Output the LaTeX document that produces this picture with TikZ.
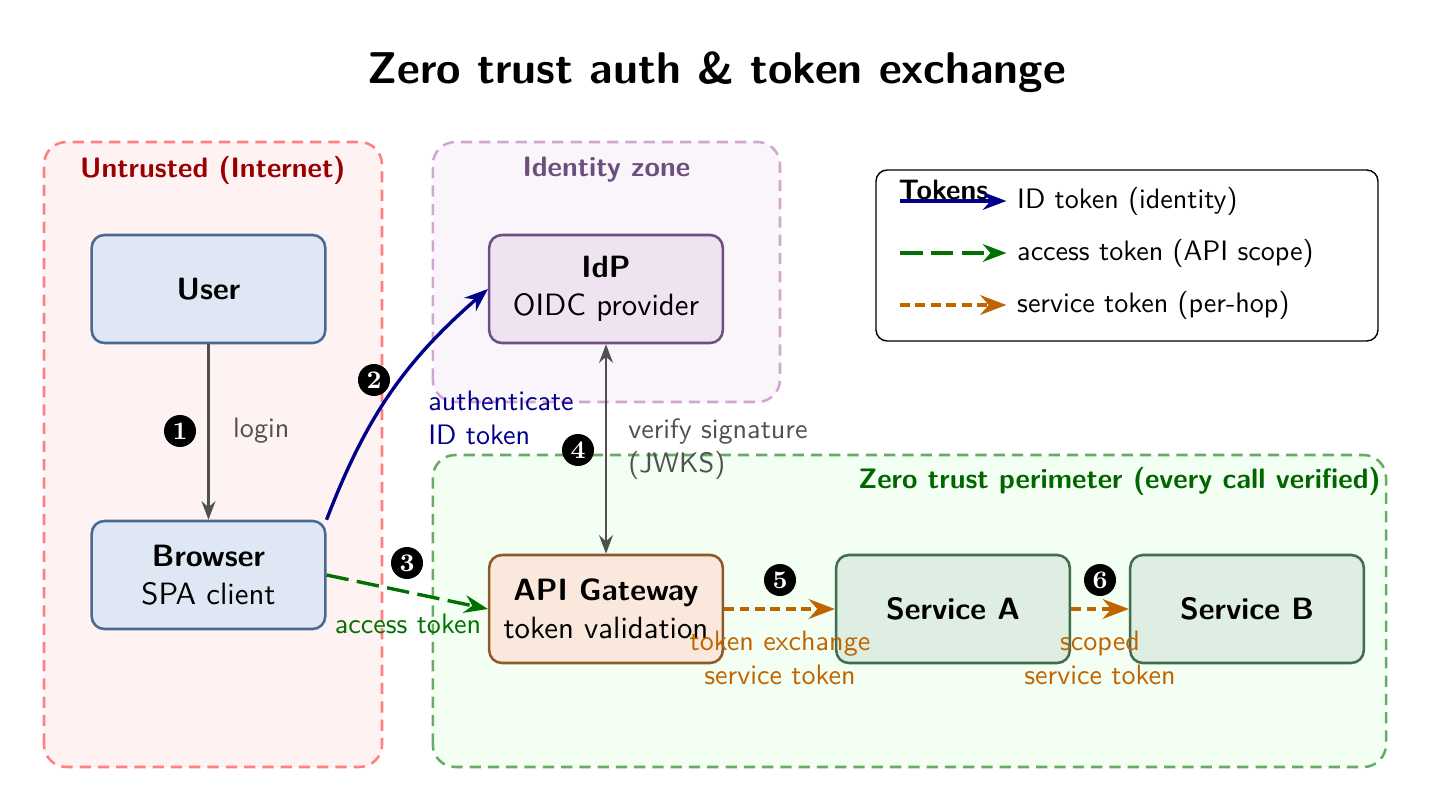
\documentclass[tikz,border=0pt,11pt]{standalone}
\usepackage{xcolor}
\usepackage{tikz}
\usetikzlibrary{arrows.meta, positioning}
\renewcommand{\familydefault}{\sfdefault}

\definecolor{userfill}{HTML}{DEE7F3}
\definecolor{userdraw}{HTML}{4A6892}
\definecolor{idpfill}{HTML}{EFE3F1}
\definecolor{idpdraw}{HTML}{6E4E7E}
\definecolor{gwfill}{HTML}{FBE8DC}
\definecolor{gwdraw}{HTML}{8B5A2B}
\definecolor{svcfill}{HTML}{DEEEE2}
\definecolor{svcdraw}{HTML}{3F6E4C}
\definecolor{flowgray}{HTML}{505050}
\definecolor{idblue}{HTML}{00008B}
\definecolor{accgreen}{HTML}{007000}
\definecolor{svcorange}{HTML}{C06400}

\begin{document}
\begin{tikzpicture}[
    box/.style={draw, rounded corners=4.5pt, line width=0.9pt, minimum width=2.92cm, minimum height=1.35cm, align=center},
    zone/.style={rounded corners=8pt, line width=0.9pt, dash pattern=on 4pt off 2.5pt},
    zonelbl/.style={font=\small\bfseries},
    badge/.style={circle, fill=black, text=white, inner sep=0pt, minimum size=0.4cm, font=\footnotesize\rmfamily\bfseries},
    lbl/.style={font=\small, align=left},
    plainflow/.style={-{Stealth}, thick, flowgray},
    idtok/.style={-{Stealth}, very thick, idblue},
    acctok/.style={-{Stealth}, very thick, accgreen, dash pattern=on 8pt off 3pt},
    svctok/.style={-{Stealth}, line width=1.4pt, svcorange, dash pattern=on 3.5pt off 2pt},
]
    \useasboundingbox (0, 0) rectangle (17.925, 10.125);

    % Title
    \node[font=\fontsize{15.8}{19}\selectfont\bfseries] (title) at (8.96, 9.225) {Zero trust auth \& token exchange};

    % Zones
    \draw[zone, fill=red!5, draw=red!50] (0.55, 0.5375) rectangle (4.775, 8.35);
    \node[zonelbl, text=red!60!black] (untrustedlbl) at (2.66, 8.0) {Untrusted (Internet)};

    \draw[zone, fill=violet!4, draw=violet!35] (5.41, 5.1) rectangle (9.75, 8.35);
    \node[zonelbl, text=idpdraw] (identitylbl) at (7.58, 8.0) {Identity zone};

    \draw[zone, fill=green!5, draw=green!45!black!60] (5.41, 0.5375) rectangle (17.325, 4.4375);
    \node[zonelbl, text=green!40!black, anchor=east, inner sep=1pt] (ztlbl) at (17.3, 4.11) {Zero trust perimeter (every call verified)};

    % Legend
    \draw[rounded corners=4pt, line width=0.5pt] (10.95, 5.8625) rectangle (17.225, 8.0);
    \node[font=\small\bfseries, anchor=west, inner sep=0pt] (tokens) at (11.225, 7.75) {Tokens};
    \node[font=\small, anchor=west] (k1) at (12.58, 7.6125) {ID token (identity)};
    \node[font=\small, anchor=west] (k2) at (12.58, 6.9625) {access token (API scope)};
    \node[font=\small, anchor=west] (k3) at (12.58, 6.3125) {service token (per-hop)};
    \coordinate (k1a) at (11.25, 7.6125);
    \coordinate (k2a) at (11.25, 6.9625);
    \coordinate (k3a) at (11.25, 6.3125);
    \draw[idtok] (k1a) -- (k1.west);
    \draw[acctok] (k2a) -- (k2.west);
    \draw[svctok] (k3a) -- (k3.west);

    % Components
    \node[box, fill=userfill, draw=userdraw] (user) at (2.606, 6.5125) {\textbf{User}};
    \node[box, fill=userfill, draw=userdraw] (browser) at (2.606, 2.9375) {\textbf{Browser}\\SPA client};
    \node[box, fill=idpfill, draw=idpdraw] (idp) at (7.575, 6.5125) {\textbf{IdP}\\OIDC provider};
    \node[box, fill=gwfill, draw=gwdraw] (gw) at (7.575, 2.5125) {\textbf{API Gateway}\\token validation};
    \node[box, fill=svcfill, draw=svcdraw] (svca) at (11.9125, 2.5125) {\textbf{Service A}};
    \node[box, fill=svcfill, draw=svcdraw] (svcb) at (15.5875, 2.5125) {\textbf{Service B}};

    % Flows
    \draw[plainflow] (user) -- (browser);
    \draw[idtok] (browser.north east) to[bend left=14] (idp.west);
    \draw[acctok] (browser.east) -- (gw.west);
    \draw[plainflow, {Stealth}-{Stealth}] (idp.south) -- (gw.north);
    \draw[svctok] (gw.east) -- (svca.west);
    \draw[svctok] (svca.east) -- (svcb.west);

    % Flow labels
    \node[lbl, text=flowgray, anchor=west] (loginlbl) at (2.78, 4.7375) {login};
    \node[lbl, text=idblue, anchor=west] (authlbl) at (5.22, 4.9) {authenticate\\ID token};
    \node[lbl, text=flowgray, anchor=west] (verifylbl) at (7.72, 4.5125) {verify signature\\(JWKS)};
    \node[lbl, text=accgreen] (acclbl) at (5.1, 2.325) {access token};
    \node[lbl, text=svcorange, align=center] (exchlbl) at (9.75, 1.9) {token exchange\\service token};
    \node[lbl, text=svcorange, align=center] (scopedlbl) at (13.75, 1.9) {scoped\\service token};

    % Step badges
    \node[badge] (b1) at (2.25, 4.7375) {1};
    \node[badge] (b2) at (4.675, 5.375) {2};
    \node[badge] (b3) at (5.0875, 3.0875) {3};
    \node[badge] (b4) at (7.225, 4.5) {4};
    \node[badge] (b5) at (9.75, 2.875) {5};
    \node[badge] (b6) at (13.75, 2.875) {6};
\end{tikzpicture}
\end{document}
